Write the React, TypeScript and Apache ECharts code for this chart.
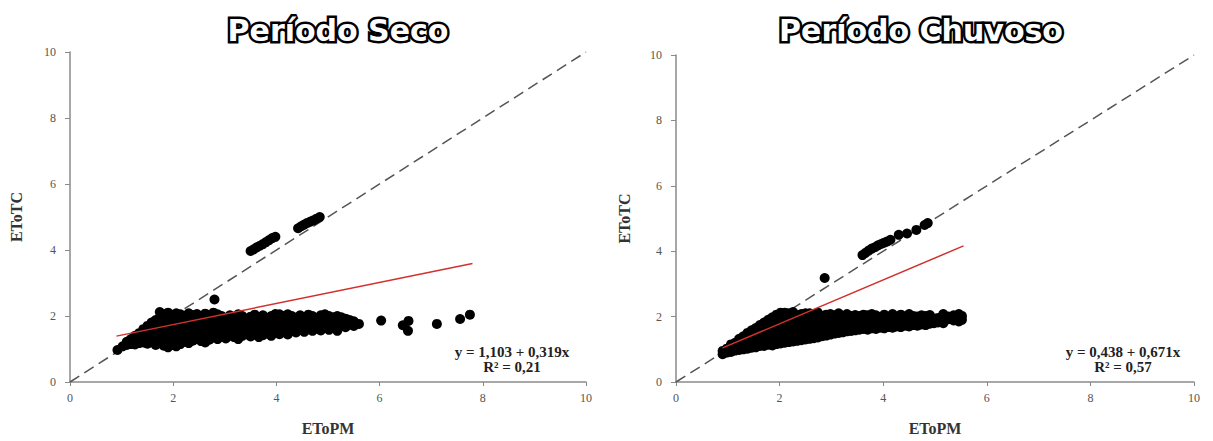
import React, { useEffect, useRef } from "react";
import * as echarts from "echarts";

// ---- Data (x = EToPM, y = EToTC) ----
// Dense cluster, listed column by column: [x, [y values]]
const secoCols: [number, number[]][] = [
  [0.92, [0.97]],
  [1.02, [1.08]],
  [1.1, [1.12, 1.22]],
  [1.18, [1.15, 1.3]],
  [1.26, [1.14, 1.28, 1.4]],
  [1.34, [1.18, 1.32, 1.48]],
  [1.42, [1.2, 1.35, 1.5, 1.6]],
  [1.5, [1.16, 1.3, 1.45, 1.6, 1.7]],
  [1.58, [1.22, 1.38, 1.52, 1.66, 1.8]],
  [1.66, [1.12, 1.27, 1.42, 1.58, 1.72, 1.88]],
  [1.74, [1.18, 1.33, 1.48, 1.63, 1.78, 1.95, 2.12]],
  [1.82, [1.1, 1.25, 1.4, 1.56, 1.7, 1.86, 2.05]],
  [1.9, [1.05, 1.15, 1.3, 1.46, 1.62, 1.77, 1.93, 2.1]],
  [1.98, [1.12, 1.27, 1.42, 1.58, 1.74, 1.9, 2.04]],
  [2.06, [1.08, 1.2, 1.35, 1.5, 1.66, 1.82, 1.98, 2.08]],
  [2.14, [1.15, 1.3, 1.45, 1.6, 1.76, 1.92, 2.05]],
  [2.22, [1.22, 1.38, 1.53, 1.7, 1.85, 2.0]],
  [2.3, [1.18, 1.32, 1.48, 1.63, 1.8, 1.95, 2.08]],
  [2.38, [1.25, 1.4, 1.56, 1.72, 1.88, 2.03]],
  [2.46, [1.3, 1.45, 1.6, 1.76, 1.92, 2.06]],
  [2.54, [1.24, 1.38, 1.53, 1.68, 1.84, 1.98]],
  [2.62, [1.2, 1.32, 1.48, 1.64, 1.8, 1.95, 2.07]],
  [2.7, [1.28, 1.42, 1.58, 1.74, 1.9, 2.02]],
  [2.78, [1.35, 1.5, 1.66, 1.82, 1.97, 2.1]],
  [2.86, [1.3, 1.45, 1.6, 1.76, 1.92, 2.05]],
  [2.94, [1.38, 1.54, 1.7, 1.86, 2.0]],
  [3.02, [1.32, 1.47, 1.62, 1.78, 1.94]],
  [3.1, [1.4, 1.56, 1.72, 1.88, 2.02]],
  [3.18, [1.36, 1.5, 1.66, 1.82, 1.98]],
  [3.26, [1.3, 1.44, 1.6, 1.76, 1.92, 2.05]],
  [3.34, [1.4, 1.55, 1.7, 1.86, 2.0]],
  [3.42, [1.45, 1.6, 1.75, 1.9]],
  [3.5, [1.38, 1.52, 1.68, 1.84, 1.98]],
  [3.58, [1.44, 1.6, 1.76, 1.92, 2.04]],
  [3.66, [1.36, 1.5, 1.65, 1.8, 1.95]],
  [3.74, [1.42, 1.56, 1.72, 1.88, 2.02]],
  [3.82, [1.48, 1.63, 1.78, 1.94]],
  [3.9, [1.4, 1.55, 1.7, 1.86, 2.0]],
  [3.98, [1.5, 1.65, 1.8, 1.96, 2.06]],
  [4.06, [1.45, 1.6, 1.75, 1.9, 2.05]],
  [4.14, [1.52, 1.68, 1.84, 2.0]],
  [4.22, [1.44, 1.62, 1.78, 1.94, 2.05]],
  [4.3, [1.55, 1.7, 1.86, 2.0]],
  [4.38, [1.5, 1.65, 1.8, 1.95]],
  [4.46, [1.58, 1.72, 1.88, 2.02]],
  [4.54, [1.52, 1.66, 1.82, 1.97]],
  [4.62, [1.6, 1.75, 1.9, 2.04]],
  [4.7, [1.55, 1.7, 1.85, 2.0]],
  [4.78, [1.62, 1.78, 1.93]],
  [4.86, [1.56, 1.7, 1.86, 2.02]],
  [4.94, [1.64, 1.8, 1.95, 2.05]],
  [5.02, [1.58, 1.72, 1.88, 2.0]],
  [5.1, [1.66, 1.82, 1.96]],
  [5.18, [1.55, 1.62, 1.76, 1.9, 2.0]],
  [5.26, [1.7, 1.85, 1.96]],
  [5.34, [1.66, 1.8, 1.92]],
  [5.42, [1.74, 1.88]],
  [5.5, [1.7, 1.84]],
  [5.6, [1.76]],
];
const secoOutliers: [number, number][] = [
  [2.8, 2.5],
  [3.5, 3.97], [3.56, 4.02], [3.62, 4.08], [3.68, 4.13], [3.74, 4.18],
  [3.8, 4.24], [3.86, 4.3], [3.92, 4.36], [3.98, 4.4],
  [4.42, 4.66], [4.48, 4.72], [4.54, 4.77], [4.6, 4.82], [4.66, 4.86],
  [4.72, 4.9], [4.78, 4.95], [4.84, 5.0],
  [6.03, 1.86], [6.45, 1.72], [6.56, 1.85], [6.55, 1.55],
  [7.11, 1.76], [7.56, 1.91], [7.75, 2.04],
];

const chuvosoCols: [number, number[]][] = [
  [0.9, [0.85, 0.95]],
  [0.98, [0.9, 1.02]],
  [1.06, [0.92, 1.05, 1.15]],
  [1.14, [0.96, 1.08, 1.2]],
  [1.22, [0.98, 1.12, 1.26, 1.32]],
  [1.3, [1.0, 1.14, 1.28, 1.4]],
  [1.38, [1.02, 1.16, 1.3, 1.44, 1.5]],
  [1.46, [1.05, 1.2, 1.34, 1.48, 1.58]],
  [1.54, [1.06, 1.2, 1.35, 1.5, 1.65]],
  [1.62, [1.1, 1.24, 1.38, 1.52, 1.66, 1.74]],
  [1.7, [1.1, 1.25, 1.4, 1.55, 1.7, 1.82]],
  [1.78, [1.14, 1.28, 1.42, 1.57, 1.72, 1.9]],
  [1.86, [1.12, 1.26, 1.4, 1.55, 1.7, 1.85, 1.98]],
  [1.94, [1.16, 1.3, 1.45, 1.6, 1.75, 1.9, 2.06]],
  [2.02, [1.18, 1.32, 1.47, 1.62, 1.78, 1.94, 2.12]],
  [2.1, [1.2, 1.35, 1.5, 1.65, 1.8, 1.96, 2.12]],
  [2.18, [1.22, 1.36, 1.52, 1.68, 1.84, 2.0, 2.1]],
  [2.26, [1.24, 1.4, 1.55, 1.7, 1.86, 2.02, 2.14]],
  [2.34, [1.26, 1.42, 1.58, 1.74, 1.9, 2.05]],
  [2.42, [1.28, 1.44, 1.6, 1.76, 1.92, 2.08]],
  [2.5, [1.3, 1.45, 1.6, 1.76, 1.92, 2.1]],
  [2.58, [1.32, 1.48, 1.64, 1.8, 1.96, 2.1]],
  [2.66, [1.34, 1.5, 1.66, 1.82, 1.98, 2.06]],
  [2.74, [1.36, 1.52, 1.68, 1.84, 2.0, 2.12]],
  [2.82, [1.4, 1.55, 1.7, 1.86, 2.02]],
  [2.9, [1.42, 1.58, 1.74, 1.9, 2.06]],
  [2.98, [1.45, 1.6, 1.76, 1.92, 2.08]],
  [3.06, [1.48, 1.62, 1.78, 1.94, 2.04]],
  [3.14, [1.5, 1.65, 1.8, 1.96, 2.1]],
  [3.22, [1.52, 1.66, 1.82, 1.98]],
  [3.3, [1.55, 1.7, 1.85, 2.0, 2.08]],
  [3.38, [1.56, 1.72, 1.88, 2.02]],
  [3.46, [1.58, 1.74, 1.9, 2.05]],
  [3.54, [1.6, 1.75, 1.9, 2.02]],
  [3.62, [1.62, 1.78, 1.94, 2.06]],
  [3.7, [1.6, 1.76, 1.92, 2.04]],
  [3.78, [1.64, 1.8, 1.95, 2.08]],
  [3.86, [1.62, 1.78, 1.93, 2.04]],
  [3.94, [1.66, 1.82, 1.97]],
  [4.02, [1.64, 1.8, 1.95, 2.06]],
  [4.1, [1.68, 1.83, 1.98]],
  [4.18, [1.66, 1.8, 1.95, 2.08]],
  [4.26, [1.7, 1.85, 2.0]],
  [4.34, [1.68, 1.82, 1.96, 2.06]],
  [4.42, [1.72, 1.86, 2.0]],
  [4.5, [1.7, 1.84, 1.98, 2.08]],
  [4.58, [1.74, 1.88, 2.02]],
  [4.66, [1.72, 1.86, 2.0]],
  [4.74, [1.76, 1.9, 2.04]],
  [4.82, [1.74, 1.88, 2.02]],
  [4.9, [1.78, 1.92, 2.05]],
  [4.98, [1.8, 1.94]],
  [5.06, [1.82, 1.96]],
  [5.16, [1.8, 2.08]],
  [5.26, [1.92, 2.0]],
  [5.36, [1.88, 2.04]],
  [5.46, [1.85, 1.98, 2.08]],
  [5.52, [1.9, 2.02]],
];
const chuvosoOutliers: [number, number][] = [
  [2.87, 3.18],
  [3.6, 3.88], [3.66, 3.95], [3.72, 4.02], [3.78, 4.08], [3.84, 4.12],
  [3.9, 4.18], [3.96, 4.22], [4.02, 4.26], [4.08, 4.3], [4.14, 4.35],
  [4.3, 4.5], [4.46, 4.54], [4.64, 4.65], [4.8, 4.8], [4.86, 4.86],
];

// Regression fits (intercept, slope, x range)
const secoFit = { a: 1.103, b: 0.319, xMin: 0.9, xMax: 7.8 };
const chuvosoFit = { a: 0.438, b: 0.671, xMin: 0.9, xMax: 5.55 };
const secoEq = ["y = 1,103 + 0,319x", "R² = 0,21"];
const chuvosoEq = ["y = 0,438 + 0,671x", "R² = 0,57"];
const titles = ["Período Seco", "Período Chuvoso"];
const axisNames = { x: "EToPM", y: "EToTC" };
const axisRange = { min: 0, max: 10, interval: 2 };
const identityLine: [number, number][] = [[0, 0], [10, 10]];

const expand = (cols: [number, number[]][], extra: [number, number][]) => {
  const pts: [number, number][] = [];
  cols.forEach(([x, ys]) => ys.forEach((y) => pts.push([x, y])));
  return pts.concat(extra);
};
const fitLine = (f: { a: number; b: number; xMin: number; xMax: number }) => [
  [f.xMin, f.a + f.b * f.xMin],
  [f.xMax, f.a + f.b * f.xMax],
];

const SERIF = "'Liberation Serif', 'Times New Roman', serif";

export default function App() {
  const ref = useRef<HTMLDivElement>(null);
  useEffect(() => {
    if (!ref.current) return;
    const chart = echarts.init(ref.current, null, { renderer: "svg" });
    const grids = [
      { left: 70, top: 52, width: 516, height: 330 },
      { left: 676, top: 55, width: 518, height: 327 },
    ];
    const nameStyle = { fontFamily: SERIF, fontWeight: "bold", fontSize: 16, color: "#333" };
    const mkX = (i: number) => ({
      type: "value",
      gridIndex: i,
      ...axisRange,
      name: axisNames.x,
      nameLocation: "middle",
      nameGap: 38,
      nameTextStyle: nameStyle,
      axisLine: { show: true, lineStyle: { color: "#8a8a8a", width: 1.5 } },
      axisTick: { show: true, inside: false, length: 4, lineStyle: { color: "#8a8a8a" } },
      axisLabel: { fontFamily: SERIF, fontSize: 12, color: "#555", margin: 10 },
      splitLine: { show: false },
    });
    const mkY = (i: number, gap: number) => ({
      type: "value",
      gridIndex: i,
      ...axisRange,
      name: axisNames.y,
      nameLocation: "middle",
      nameRotate: 90,
      nameGap: gap,
      nameTextStyle: nameStyle,
      axisLine: { show: true, lineStyle: { color: "#8a8a8a", width: 1.5 } },
      axisTick: { show: true, inside: false, length: 5, lineStyle: { color: "#8a8a8a" } },
      axisLabel: { fontFamily: SERIF, fontSize: 12, color: "#555", margin: 14 },
      splitLine: { show: false },
    });
    const seriesFor = (i: number, pts: [number, number][], fit: any) => [
      {
        type: "line",
        xAxisIndex: i,
        yAxisIndex: i,
        data: identityLine,
        symbol: "none",
        lineStyle: { color: "#555", width: 1.5, type: [11, 6] },
        z: 1,
      },
      {
        type: "scatter",
        xAxisIndex: i,
        yAxisIndex: i,
        data: pts,
        symbol: "circle",
        symbolSize: 10,
        itemStyle: { color: "#000", opacity: 1 },
        z: 2,
      },
      {
        type: "line",
        xAxisIndex: i,
        yAxisIndex: i,
        data: fitLine(fit),
        symbol: "none",
        lineStyle: { color: "#d0312d", width: 1.5 },
        z: 3,
      },
    ];
    const titleText = (t: string, cx: number) => ({
      type: "text",
      x: cx,
      y: 30,
      style: {
        text: t,
        fontFamily: "'DejaVu Sans', sans-serif",
        fontWeight: "bold",
        fontSize: 30,
        fill: "#fff",
        stroke: "#000",
        lineWidth: 5,
        textAlign: "center",
        textVerticalAlign: "middle",
      },
      z: 10,
    });
    const eqText = (lines: string[], cx: number) => ({
      type: "text",
      x: cx,
      y: 359,
      style: {
        text: lines.join("\n"),
        fontFamily: SERIF,
        fontWeight: "bold",
        fontSize: 15,
        lineHeight: 15,
        fill: "#222",
        textAlign: "center",
        textVerticalAlign: "middle",
      },
      z: 10,
    });
    chart.setOption({
      animation: false,
      backgroundColor: "#fff",
      grid: grids.map((g) => ({ ...g, containLabel: false, outerBoundsMode: "none" })),
      xAxis: [mkX(0), mkX(1)],
      yAxis: [mkY(0, 46), mkY(1, 44)],
      series: [
        ...seriesFor(0, expand(secoCols, secoOutliers), secoFit),
        ...seriesFor(1, expand(chuvosoCols, chuvosoOutliers), chuvosoFit),
      ],
      graphic: [
        titleText(titles[0], 338),
        titleText(titles[1], 921),
        eqText(secoEq, 512),
        eqText(chuvosoEq, 1123),
      ],
    });
    return () => chart.dispose();
  }, []);
  return (
    <div
      ref={ref}
      style={{ position: "fixed", left: 0, top: 0, width: 1213, height: 441, background: "#fff" }}
    />
  );
}
